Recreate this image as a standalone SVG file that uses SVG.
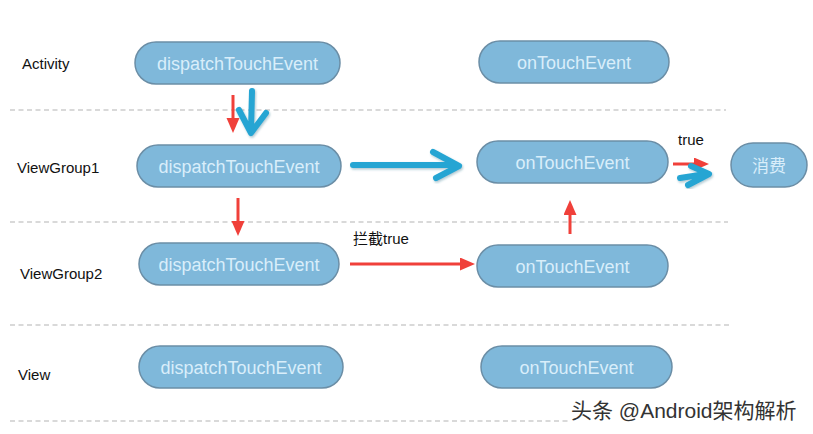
<svg xmlns="http://www.w3.org/2000/svg" width="813" height="434" viewBox="0 0 813 434">
<style>
.bg{fill:#ffffff}
.sep{stroke:#b4b4b4;stroke-width:1.2;stroke-dasharray:5 3.5;fill:none}
.lbl{font-family:"Liberation Sans",Arial,sans-serif;font-size:15px;fill:#111111}
.node rect{fill:#7fb8da;stroke:#6b8ea6;stroke-width:1.5}
.node text{font-family:"Liberation Sans",Arial,sans-serif;font-size:18px;fill:#d9eefa;text-anchor:middle}
.red{stroke:#f0403a;stroke-width:3;fill:none;marker-end:url(#rh)}
.blue{stroke:#25a5d3;stroke-width:6;fill:none;stroke-linecap:round;stroke-linejoin:round;filter:url(#sh)}
.cl{font-family:"Liberation Sans",Arial,"Noto Sans CJK SC",sans-serif;font-size:15px;fill:#111111}
.wm{font-family:"Liberation Sans","Noto Sans CJK SC",sans-serif;font-size:21px;fill:#333333;stroke:#ffffff;stroke-width:2;paint-order:stroke}
</style>
<defs>
<marker id="rh" markerUnits="userSpaceOnUse" markerWidth="16" markerHeight="14" refX="6" refY="6.5" orient="auto">
<path d="M0,0 L15,6.5 L0,13 z" fill="#f0403a"/>
</marker>
<filter id="sh" x="-20%" y="-20%" width="140%" height="140%">
<feDropShadow dx="1" dy="1.5" stdDeviation="1" flood-color="#1a5f7a" flood-opacity="0.35"/>
</filter>
</defs>
<rect class="bg" x="0" y="0" width="813" height="434"/>

<g id="separators">
<line class="sep" x1="10" y1="110" x2="726" y2="110"/>
<line class="sep" x1="10" y1="222" x2="728" y2="222"/>
<line class="sep" x1="10" y1="325" x2="730" y2="325"/>
<line class="sep" x1="10" y1="421" x2="568" y2="421"/>
</g>

<g id="layer-labels">
<text class="lbl" x="22" y="69">Activity</text>
<text class="lbl" x="17" y="173">ViewGroup1</text>
<text class="lbl" x="20" y="279">ViewGroup2</text>
<text class="lbl" x="18" y="380">View</text>
</g>

<g id="activity-dispatch" class="node">
<rect x="135" y="42" width="205" height="42" rx="21"/>
<text x="237.5" y="70">dispatchTouchEvent</text>
</g>
<g id="activity-ontouch" class="node">
<rect x="479" y="41" width="190" height="42" rx="21"/>
<text x="574" y="69">onTouchEvent</text>
</g>
<g id="vg1-dispatch" class="node">
<rect x="137" y="145" width="204" height="42" rx="21"/>
<text x="239" y="173">dispatchTouchEvent</text>
</g>
<g id="vg1-ontouch" class="node">
<rect x="477" y="141" width="191" height="42" rx="21"/>
<text x="572.5" y="169">onTouchEvent</text>
</g>
<g id="consume" class="node">
<rect x="731" y="143" width="76" height="44" rx="22"/>
<text x="769" y="172" style="font-family:'Noto Sans CJK SC',sans-serif;font-size:17px">消费</text>
</g>
<g id="vg2-dispatch" class="node">
<rect x="139" y="243" width="200" height="42" rx="21"/>
<text x="239" y="271">dispatchTouchEvent</text>
</g>
<g id="vg2-ontouch" class="node">
<rect x="477" y="245" width="191" height="42" rx="21"/>
<text x="572.5" y="273">onTouchEvent</text>
</g>
<g id="view-dispatch" class="node">
<rect x="139" y="346" width="204" height="42" rx="21"/>
<text x="241" y="374">dispatchTouchEvent</text>
</g>
<g id="view-ontouch" class="node">
<rect x="481" y="346" width="191" height="42" rx="21"/>
<text x="576.5" y="374">onTouchEvent</text>
</g>

<g id="connectors">
<line class="red" x1="233" y1="95" x2="233" y2="124"/>
<line class="red" x1="238" y1="198" x2="238" y2="227"/>
<line class="red" x1="350" y1="264" x2="466" y2="264"/>
<line class="red" x1="570" y1="234" x2="570" y2="209"/>
<line class="red" x1="673" y1="164" x2="700" y2="164"/>
<path class="blue" d="M252,91 L251,131 M239,110 L251,133 L266,113"/>
<path class="blue" d="M353,165 L456,165 M433,152 L459,166 L436,178"/>
<path class="blue" d="M680,178 L706,174 M691,166 L709,174 L688,185"/>
<text class="cl" x="353" y="244">拦截true</text>
<text class="cl" x="678" y="145">true</text>
</g>

<text class="wm" x="571" y="418">头条 @Android架构解析</text>
</svg>
